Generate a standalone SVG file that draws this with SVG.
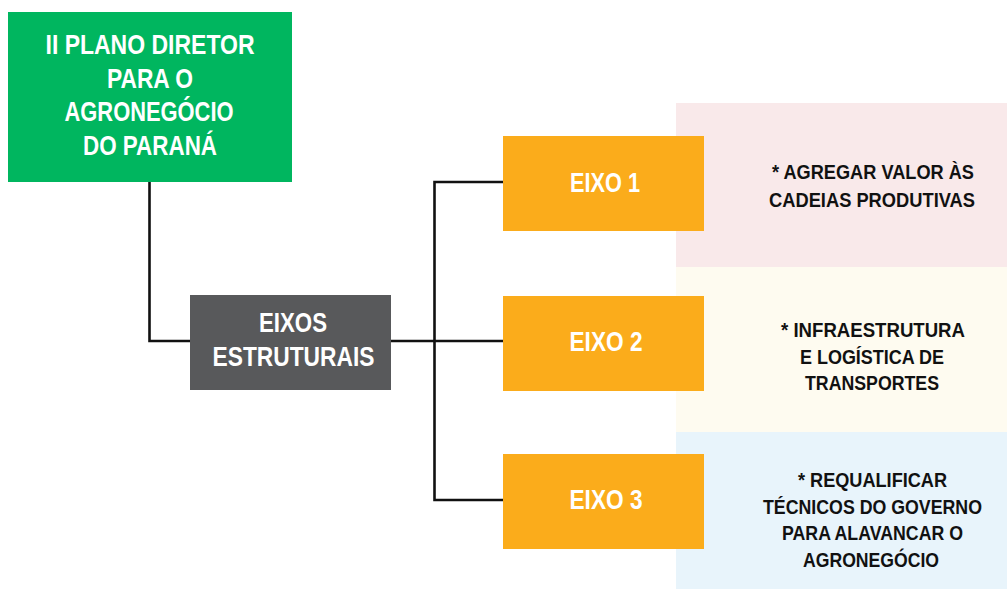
<svg xmlns="http://www.w3.org/2000/svg" width="1007" height="589" viewBox="0 0 1007 589">
<style>
.t{font-family:"Liberation Sans Narrow","Liberation Sans",Arial,sans-serif;font-weight:bold;text-anchor:middle}
.w{fill:#ffffff;font-size:28px}
.k{fill:#111111;font-size:21px}
.ln{stroke:#111111;stroke-width:2.6;fill:none;stroke-linejoin:miter}
</style>
<rect x="0" y="0" width="1007" height="589" fill="#ffffff"/>
<g id="panels">
<rect x="676" y="103" width="331" height="164" fill="#F9E9EA"/>
<rect x="676" y="267" width="331" height="165" fill="#FEFBF0"/>
<rect x="676" y="432" width="331" height="157" fill="#E8F4FB"/>
</g>
<g id="connectors">
<polyline class="ln" points="149.5,182 149.5,341 190,341"/>
<line class="ln" x1="391" y1="341" x2="503" y2="341"/>
<polyline class="ln" points="503,182 434.5,182 434.5,500 503,500"/>
</g>
<g id="plano">
<rect x="8" y="12" width="284" height="170" fill="#00B65F"/>
<text class="t w" x="150" y="54" textLength="209" lengthAdjust="spacingAndGlyphs">II PLANO DIRETOR</text>
<text class="t w" x="150" y="87.5" textLength="86" lengthAdjust="spacingAndGlyphs">PARA O</text>
<text class="t w" x="149" y="121" textLength="169" lengthAdjust="spacingAndGlyphs">AGRONEGÓCIO</text>
<text class="t w" x="150" y="155" textLength="134" lengthAdjust="spacingAndGlyphs">DO PARANÁ</text>
</g>
<g id="eixos">
<rect x="190" y="295" width="201" height="95" fill="#58595B"/>
<text class="t w" x="293" y="332" textLength="68" lengthAdjust="spacingAndGlyphs">EIXOS</text>
<text class="t w" x="293.5" y="365.5" textLength="162" lengthAdjust="spacingAndGlyphs">ESTRUTURAIS</text>
</g>
<g id="eixo1">
<rect x="503" y="136" width="201" height="95" fill="#FBAC1B"/>
<text class="t w" x="605" y="191.5" textLength="70" lengthAdjust="spacingAndGlyphs">EIXO 1</text>
</g>
<g id="eixo2">
<rect x="503" y="296" width="201" height="95" fill="#FBAC1B"/>
<text class="t w" x="606" y="350.5" textLength="73" lengthAdjust="spacingAndGlyphs">EIXO 2</text>
</g>
<g id="eixo3">
<rect x="503" y="454" width="201" height="95" fill="#FBAC1B"/>
<text class="t w" x="606" y="509" textLength="73" lengthAdjust="spacingAndGlyphs">EIXO 3</text>
</g>
<g id="desc1">
<text class="t k" x="873" y="179" textLength="202" lengthAdjust="spacingAndGlyphs">* AGREGAR VALOR ÀS</text>
<text class="t k" x="872" y="206.5" textLength="206" lengthAdjust="spacingAndGlyphs">CADEIAS PRODUTIVAS</text>
</g>
<g id="desc2">
<text class="t k" x="873" y="336.5" textLength="184" lengthAdjust="spacingAndGlyphs">* INFRAESTRUTURA</text>
<text class="t k" x="872" y="364" textLength="144" lengthAdjust="spacingAndGlyphs">E LOGÍSTICA DE</text>
<text class="t k" x="872" y="390" textLength="134" lengthAdjust="spacingAndGlyphs">TRANSPORTES</text>
</g>
<g id="desc3">
<text class="t k" x="872.5" y="486.5" textLength="149" lengthAdjust="spacingAndGlyphs">* REQUALIFICAR</text>
<text class="t k" x="872.5" y="513.5" textLength="219" lengthAdjust="spacingAndGlyphs">TÉCNICOS DO GOVERNO</text>
<text class="t k" x="872.5" y="540" textLength="181" lengthAdjust="spacingAndGlyphs">PARA ALAVANCAR O</text>
<text class="t k" x="871" y="567" textLength="136" lengthAdjust="spacingAndGlyphs">AGRONEGÓCIO</text>
</g>
</svg>
